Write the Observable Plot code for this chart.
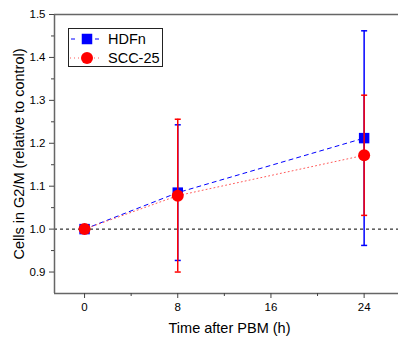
<!DOCTYPE html>
<html>
<head>
<meta charset="utf-8">
<script src="https://cdn.jsdelivr.net/npm/d3@7"></script>
<script src="https://cdn.jsdelivr.net/npm/@observablehq/plot@0.6"></script>
<style>
  html, body { margin: 0; padding: 0; background: #fff; }
  #chart { position: relative; width: 398px; height: 338px; font-family: "Liberation Sans", Arial, sans-serif; }
  #legend { position: absolute; left: 68px; top: 28px; }
</style>
</head>
<body>
<div id="chart"></div>
<script>
// Time points (hours after PBM)
const times = [0, 8, 24];
// HDFn: mean fraction of cells in G2/M relative to control, and error
const hdfnMean = [1.0, 1.085, 1.212];
const hdfnErr = [0, 0.158, 0.25];
// SCC-25: mean and error
const sccMean = [1.0, 1.078, 1.172];
const sccErr = [0, 0.178, 0.14];
// Axis ticks
const xTicks = [0, 8, 16, 24];
const xMinor = [4, 12, 20];
const yTicks = [0.9, 1.0, 1.1, 1.2, 1.3, 1.4, 1.5];
const yMinor = [0.95, 1.05, 1.15, 1.25, 1.35, 1.45];

const xDomain = [-2.58, 26.95];
const yDomain = [0.85, 1.5];

const BLUE = "#0000ff";
const RED = "#ff0000";
const AXIS = "#666666";

const rows = (means, errs) => times.map((t, i) => ({
  t, m: means[i], lo: means[i] - errs[i], hi: means[i] + errs[i], e: errs[i]
}));
const hdfn = rows(hdfnMean, hdfnErr);
const scc = rows(sccMean, sccErr);

// horizontal cap symbol for error bars
const cap = {
  draw(ctx, size) {
    const w = Math.sqrt(size);
    ctx.moveTo(-w / 2, 0);
    ctx.lineTo(w / 2, 0);
  }
};

function seriesMarks(data, color, line, symbol, r) {
  const withErr = data.filter(d => d.e > 0);
  return [
    Plot.line(data, {x: "t", y: "m", stroke: line.stroke, strokeWidth: line.width, strokeDasharray: line.dash}),
    Plot.ruleX(withErr, {x: "t", y1: "lo", y2: "hi", stroke: color, strokeWidth: 1.5}),
    Plot.dot(withErr, {x: "t", y: "hi", symbol: cap, r: 3.4, stroke: color, strokeWidth: 1.5}),
    Plot.dot(withErr, {x: "t", y: "lo", symbol: cap, r: 3.4, stroke: color, strokeWidth: 1.5}),
    Plot.dot(data, {x: "t", y: "m", symbol, r, fill: color, stroke: "none"})
  ];
}

const chart = Plot.plot({
  width: 398,
  height: 338,
  marginTop: 14,
  marginBottom: 45,
  marginLeft: 54,
  marginRight: 0,
  style: {fontFamily: "Liberation Sans, Arial, sans-serif", background: "#fff", color: "#000"},
  x: {domain: xDomain},
  y: {domain: yDomain},
  marks: [
    // reference level at 1.0
    Plot.ruleY([1.0], {stroke: "#000", strokeWidth: 1, strokeDasharray: "3,3"}),
    ...seriesMarks(hdfn, BLUE, {stroke: BLUE, width: 1, dash: "4,4"}, "square", 5.9),
    ...seriesMarks(scc, RED, {stroke: "#ff5a5a", width: 1, dash: "1,3"}, "circle", 6),
    // frame lines: top, left, bottom
    Plot.ruleY([yDomain[1]], {stroke: AXIS, strokeWidth: 1.5}),
    Plot.ruleY([yDomain[0]], {stroke: AXIS, strokeWidth: 1.5}),
    Plot.ruleX([xDomain[0]], {stroke: AXIS, strokeWidth: 1.5}),
    Plot.axisY({ticks: yTicks, tickSize: 5, tickPadding: 4, tickFormat: d3.format(".1f"),
      stroke: "#444", fill: "#000", fontSize: 11.5, label: null}),
    Plot.axisY({ticks: yMinor, tickSize: 3, text: null, stroke: "#444", label: null}),
    Plot.axisX({ticks: xTicks, tickSize: 5, tickPadding: 4, tickFormat: d3.format("d"),
      stroke: "#444", fill: "#000", fontSize: 11.5, label: null}),
    Plot.axisX({ticks: xMinor, tickSize: 3, text: null, stroke: "#444", label: null}),
    // axis titles
    Plot.text(["Cells in G2/M (relative to control)"], {frameAnchor: "left", dx: -35, rotate: -90,
      textAnchor: "middle", lineAnchor: "middle", fontSize: 14.5, fill: "#000"}),
    Plot.text(["Time after PBM (h)"], {frameAnchor: "bottom", dx: 3, dy: 39,
      textAnchor: "middle", fontSize: 14.5, fill: "#000"})
  ]
});

const root = document.getElementById("chart");
root.appendChild(chart);

// Legend box inside the plot area
const legend = d3.create("svg")
  .attr("id", "legend")
  .attr("width", 95)
  .attr("height", 39)
  .style("font-family", "Liberation Sans, Arial, sans-serif");
legend.append("rect").attr("x", 0.5).attr("y", 0.5).attr("width", 94).attr("height", 38)
  .attr("fill", "#fff").attr("stroke", "#222").attr("stroke-width", 1);

const entries = [
  {label: "HDFn", color: BLUE, kind: "square", y: 11},
  {label: "SCC-25", color: RED, kind: "circle", y: 30}
];
for (const e of entries) {
  const g = legend.append("g");
  if (e.kind === "square") {
    g.append("line").attr("x1", 3).attr("x2", 7).attr("y1", e.y).attr("y2", e.y)
      .attr("stroke", BLUE).attr("stroke-width", 1);
    g.append("line").attr("x1", 27).attr("x2", 31).attr("y1", e.y).attr("y2", e.y)
      .attr("stroke", BLUE).attr("stroke-width", 1);
    g.append("rect").attr("x", 19 - 5.25).attr("y", e.y - 5.25).attr("width", 10.5).attr("height", 10.5)
      .attr("fill", BLUE);
  } else {
    g.append("line").attr("x1", 2).attr("x2", 34).attr("y1", e.y).attr("y2", e.y)
      .attr("stroke", "#ff5a5a").attr("stroke-width", 1).attr("stroke-dasharray", "1,3");
    g.append("circle").attr("cx", 19).attr("cy", e.y).attr("r", 6).attr("fill", RED);
  }
  g.append("text").attr("x", 40).attr("y", e.y).attr("dy", "0.36em")
    .attr("font-size", 14.5).attr("fill", "#000").text(e.label);
}
root.appendChild(legend.node());
</script>
</body>
</html>
